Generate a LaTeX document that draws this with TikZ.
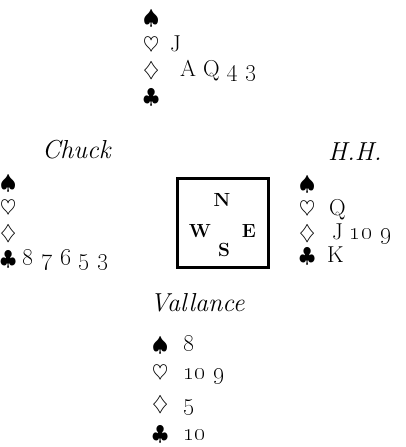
\documentclass[tikz,border=0pt]{standalone}
\begin{document}
\begin{tikzpicture}[x=1pt,y=-1pt,
  card/.style={anchor=base west,inner sep=0pt,font=\fontsize{23}{27}\selectfont},
  player/.style={anchor=base west,inner sep=0pt,font=\fontsize{26}{30}\selectfont\itshape},
  dir/.style={inner sep=0pt,font=\fontsize{19}{22}\selectfont\bfseries},
  table/.style={draw,line width=3pt}]
\useasboundingbox (0,0) rectangle (405,447);
\newcommand{\suit}[2]{\makebox[#1pt][l]{\fontsize{20}{24}\selectfont$#2$}}
% North
\node[card] (n1) at (143,24) {\suit{16}{\spadesuit}};
\node[card] (n2) at (143,51) {\suit{27}{\heartsuit}J};
\node[card] (n3) at (143,76) {\suit{37}{\diamondsuit}A Q \oldstylenums{4 3}};
\node[card] (n4) at (143,103) {\suit{16}{\clubsuit}};
% West
\node[player] (wn) at (42,158) {Chuck};
\node[card] (w1) at (0,189) {\suit{16}{\spadesuit}};
\node[card] (w2) at (0,214) {\suit{16}{\heartsuit}};
\node[card] (w3) at (0,239) {\suit{16}{\diamondsuit}};
\node[card] (w4) at (0,265) {\suit{22}{\clubsuit}\oldstylenums{8 7 6 5 3}};
% East
\node[player] (en) at (328,160) {H.H.};
\node[card] (e1) at (299,190) {\suit{16}{\spadesuit}};
\node[card] (e2) at (299,215) {\suit{30}{\heartsuit}Q};
\node[card] (e3) at (299,239) {\suit{33}{\diamondsuit}J \oldstylenums{10 9}};
\node[card] (e4) at (299,262) {\suit{28}{\clubsuit}K};
% South
\node[player] (sn) at (150,311) {Vallance};
\node[card] (s1) at (152,351) {\suit{31}{\spadesuit}\oldstylenums{8}};
\node[card] (s2) at (152,379) {\suit{31}{\heartsuit}\oldstylenums{10 9}};
\node[card] (s3) at (152,410) {\suit{31}{\diamondsuit}\oldstylenums{5}};
\node[card] (s4) at (152,440) {\suit{31}{\clubsuit}\oldstylenums{10}};
% Table
\node[table,minimum width=91pt,minimum height=89pt,inner sep=0pt] (tb) at (223,223) {};
\node[dir] (dn) at (222,200) {N};
\node[dir] (dw) at (200,231) {W};
\node[dir] (de) at (249,231) {E};
\node[dir] (ds) at (224,250) {S};
\end{tikzpicture}
\end{document}
